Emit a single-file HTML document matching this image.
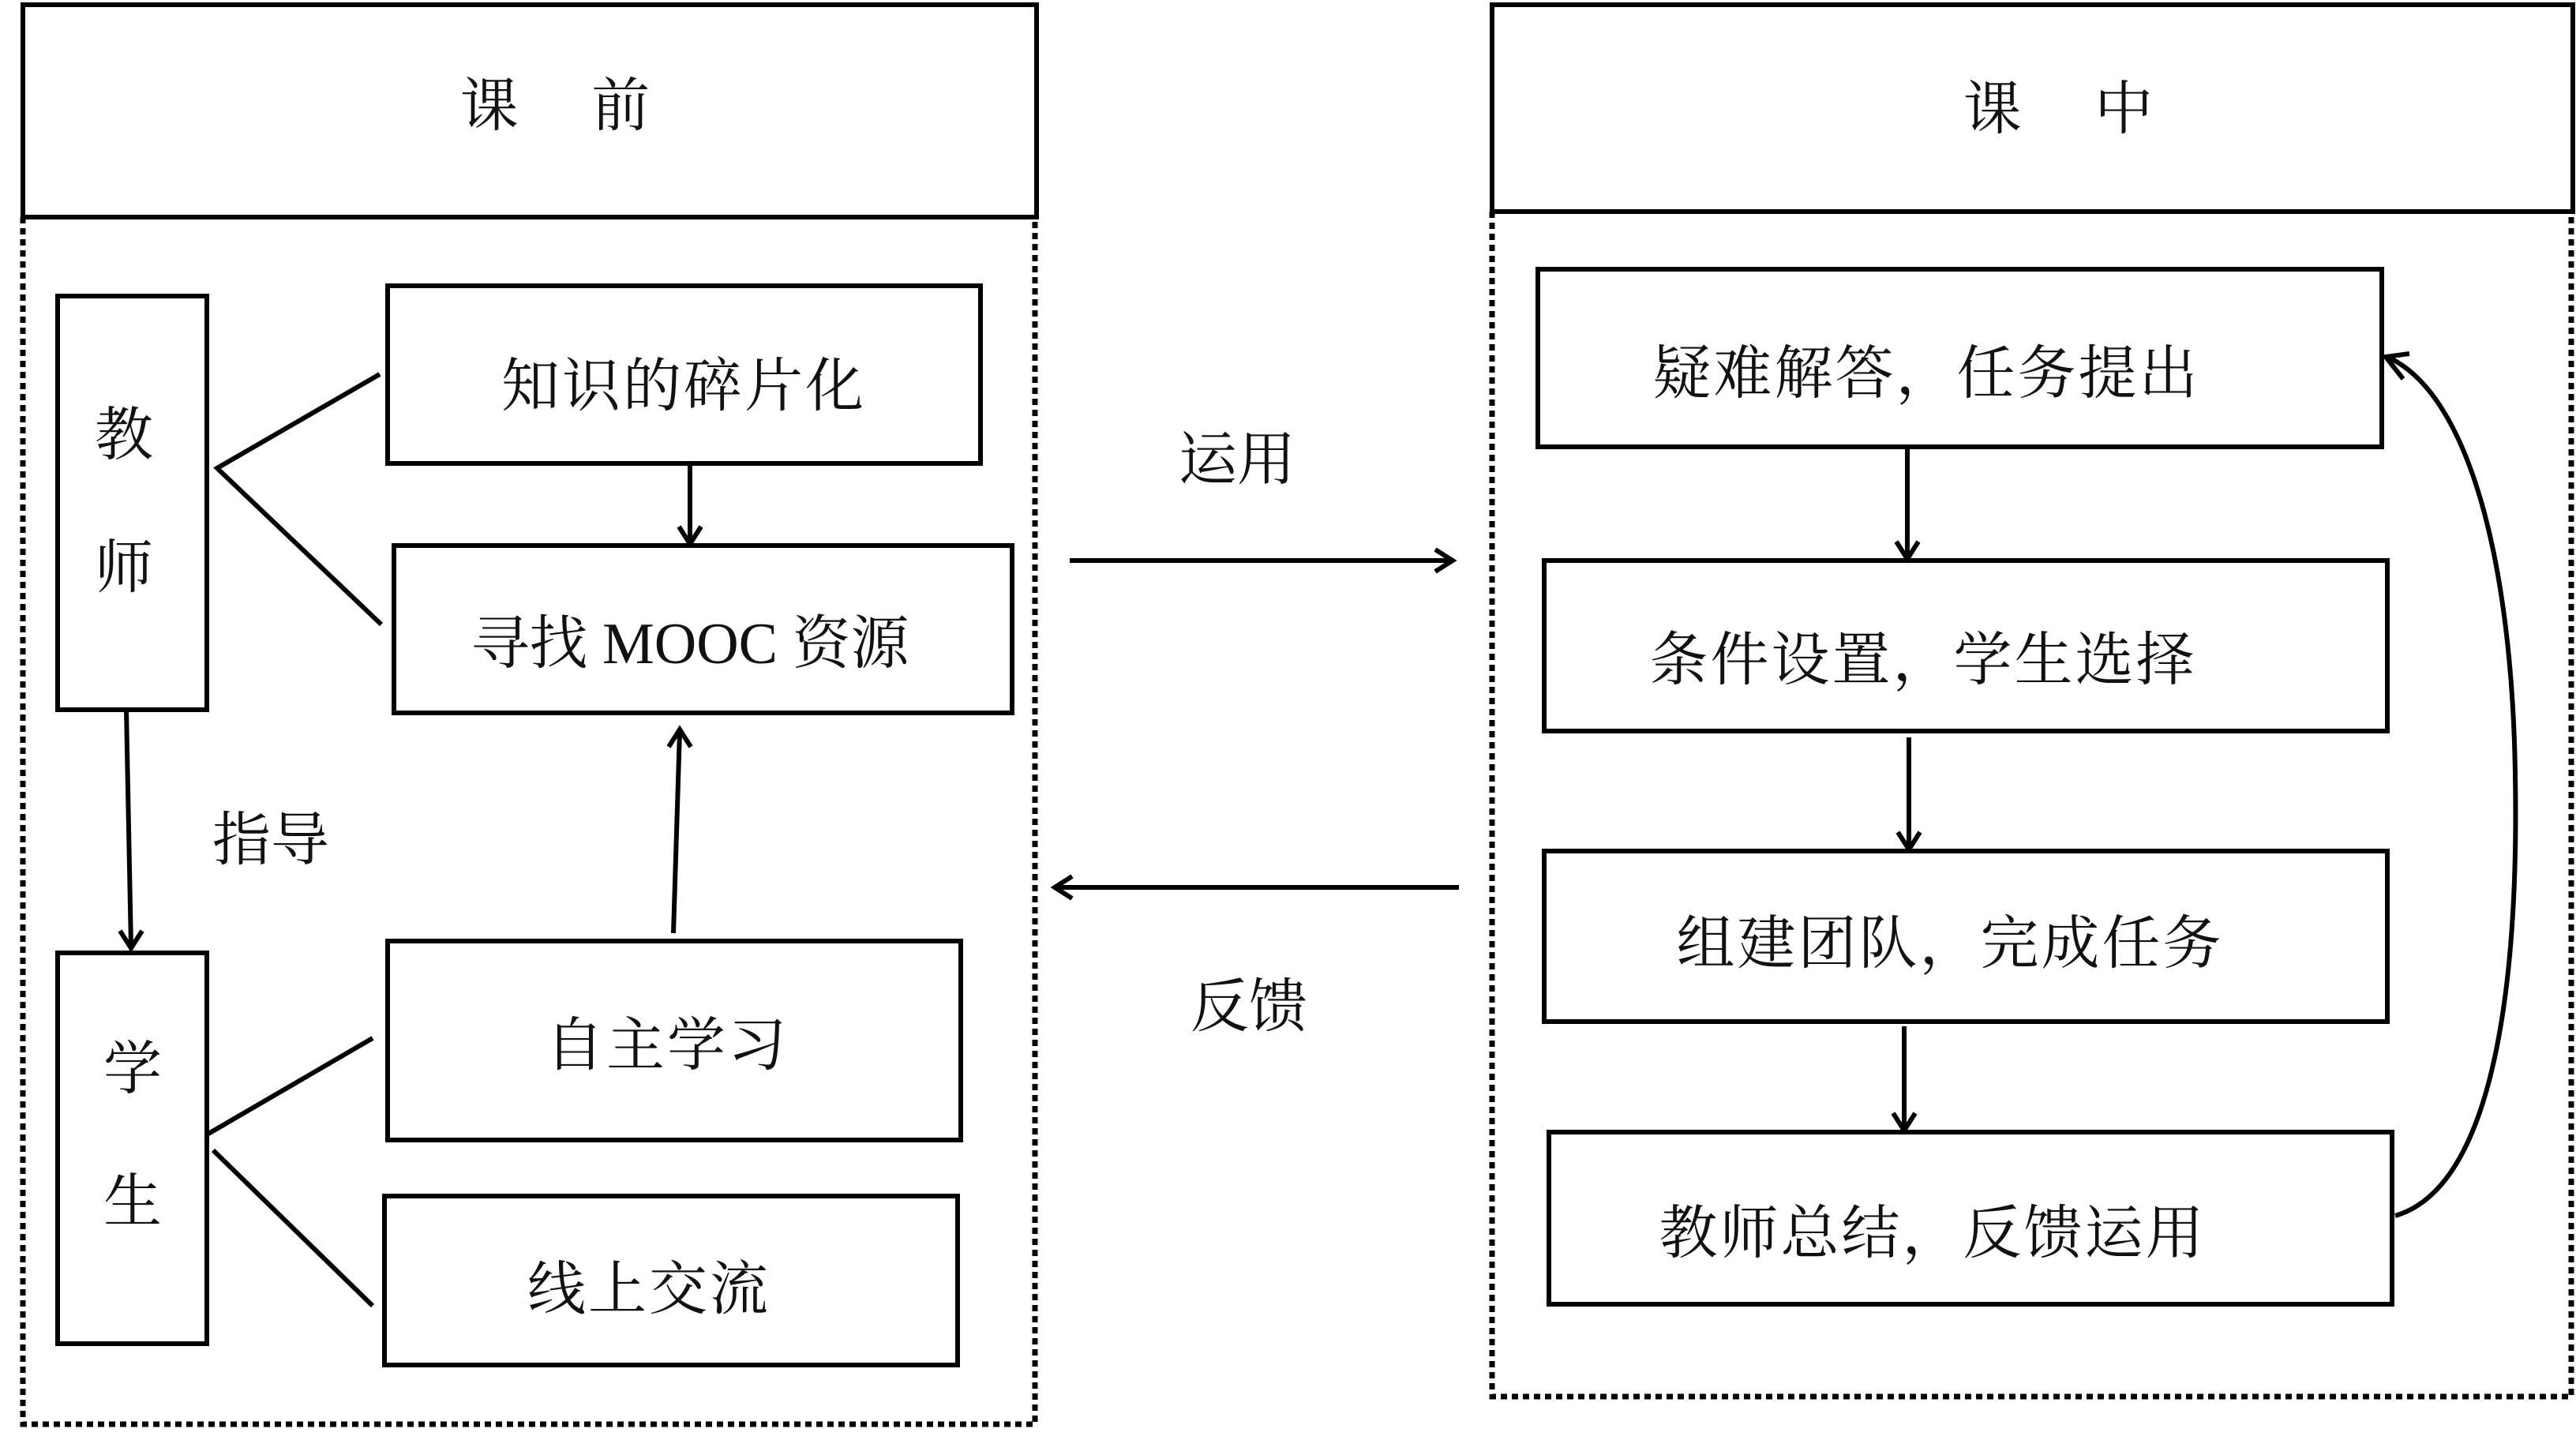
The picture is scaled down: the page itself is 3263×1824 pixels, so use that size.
<!DOCTYPE html>
<html><head><meta charset="utf-8"><style>
html,body{margin:0;padding:0;background:#fff;}
svg{display:block;}
text{font-family:"Liberation Serif","Noto Serif CJK SC",serif;fill:#111;text-anchor:middle;dominant-baseline:central;}
</style></head><body>
<svg width="3263" height="1824" viewBox="0 0 3263 1824" xmlns="http://www.w3.org/2000/svg">
<g fill="none" stroke="#000" stroke-width="6">
<!-- left -->
<rect x="29" y="6" width="1284" height="269"/>
<path d="M29 275 V1804 H1311 V275" stroke-dasharray="8 6" stroke-width="7"/>
<rect x="73" y="375" width="189" height="524"/>
<rect x="491" y="362" width="751" height="225"/>
<rect x="499" y="691" width="783" height="212"/>
<rect x="73" y="1207" width="189" height="495"/>
<rect x="491" y="1192" width="726" height="252"/>
<rect x="487" y="1515" width="726" height="214"/>
<path d="M481 474 L275 593 L483 791"/>
<path d="M472 1315 L264 1436"/>
<path d="M270 1457 L472 1654"/>
<path d="M874 587 V687"/><path d="M860 667 L874 689 L888 667"/>
<path d="M853 1182 L861 926"/><path d="M847 946 L861 924 L875 946"/>
<path d="M160 899 L166 1199"/><path d="M152 1179 L166 1201 L180 1179"/>
<!-- middle -->
<path d="M1355 710 H1838"/><path d="M1818 696 L1840 710 L1818 724"/>
<path d="M1848 1124 H1338"/><path d="M1358 1110 L1336 1124 L1358 1138"/>
<!-- right -->
<rect x="1890" y="6" width="1369" height="262"/>
<path d="M1890 268 V1769 H3257 V268" stroke-dasharray="8 6" stroke-width="7"/>
<rect x="1948" y="341" width="1069" height="225"/>
<rect x="1956" y="710" width="1068" height="216"/>
<rect x="1956" y="1078" width="1068" height="216"/>
<rect x="1962" y="1434" width="1068" height="218"/>
<path d="M2416 566 V706"/><path d="M2402 686 L2416 708 L2430 686"/>
<path d="M2418 934 V1074"/><path d="M2404 1054 L2418 1076 L2432 1054"/>
<path d="M2412 1300 V1430"/><path d="M2398 1410 L2412 1432 L2426 1410"/>
<path d="M3034 1540 C3170 1500 3190 1200 3186 980 C3182 720 3130 500 3024 452"/>
<path d="M3044 480 L3022 452 L3052 448"/>
</g>
<g font-size="74">
<text x="703" y="135">课　 前</text>
<text x="2607" y="139">课　 中</text>
<text x="157" y="552">教</text>
<text x="157" y="720">师</text>
<text x="168" y="1355">学</text>
<text x="168" y="1523">生</text>
<text x="866" y="490" letter-spacing="3">知识的碎片化</text>
<text x="874" y="816">寻找 MOOC 资源</text>
<text x="845" y="1325" letter-spacing="3">自主学习</text>
<text x="822" y="1634" letter-spacing="3">线上交流</text>
<text x="343" y="1065">指导</text>
<text x="1567" y="583">运用</text>
<text x="1582" y="1276">反馈</text>
<text x="2440" y="474" letter-spacing="3">疑难解答，任务提出</text>
<text x="2436" y="837" letter-spacing="3">条件设置，学生选择</text>
<text x="2470" y="1196" letter-spacing="3">组建团队，完成任务</text>
<text x="2448" y="1563" letter-spacing="3">教师总结，反馈运用</text>
</g>
</svg>
</body></html>
